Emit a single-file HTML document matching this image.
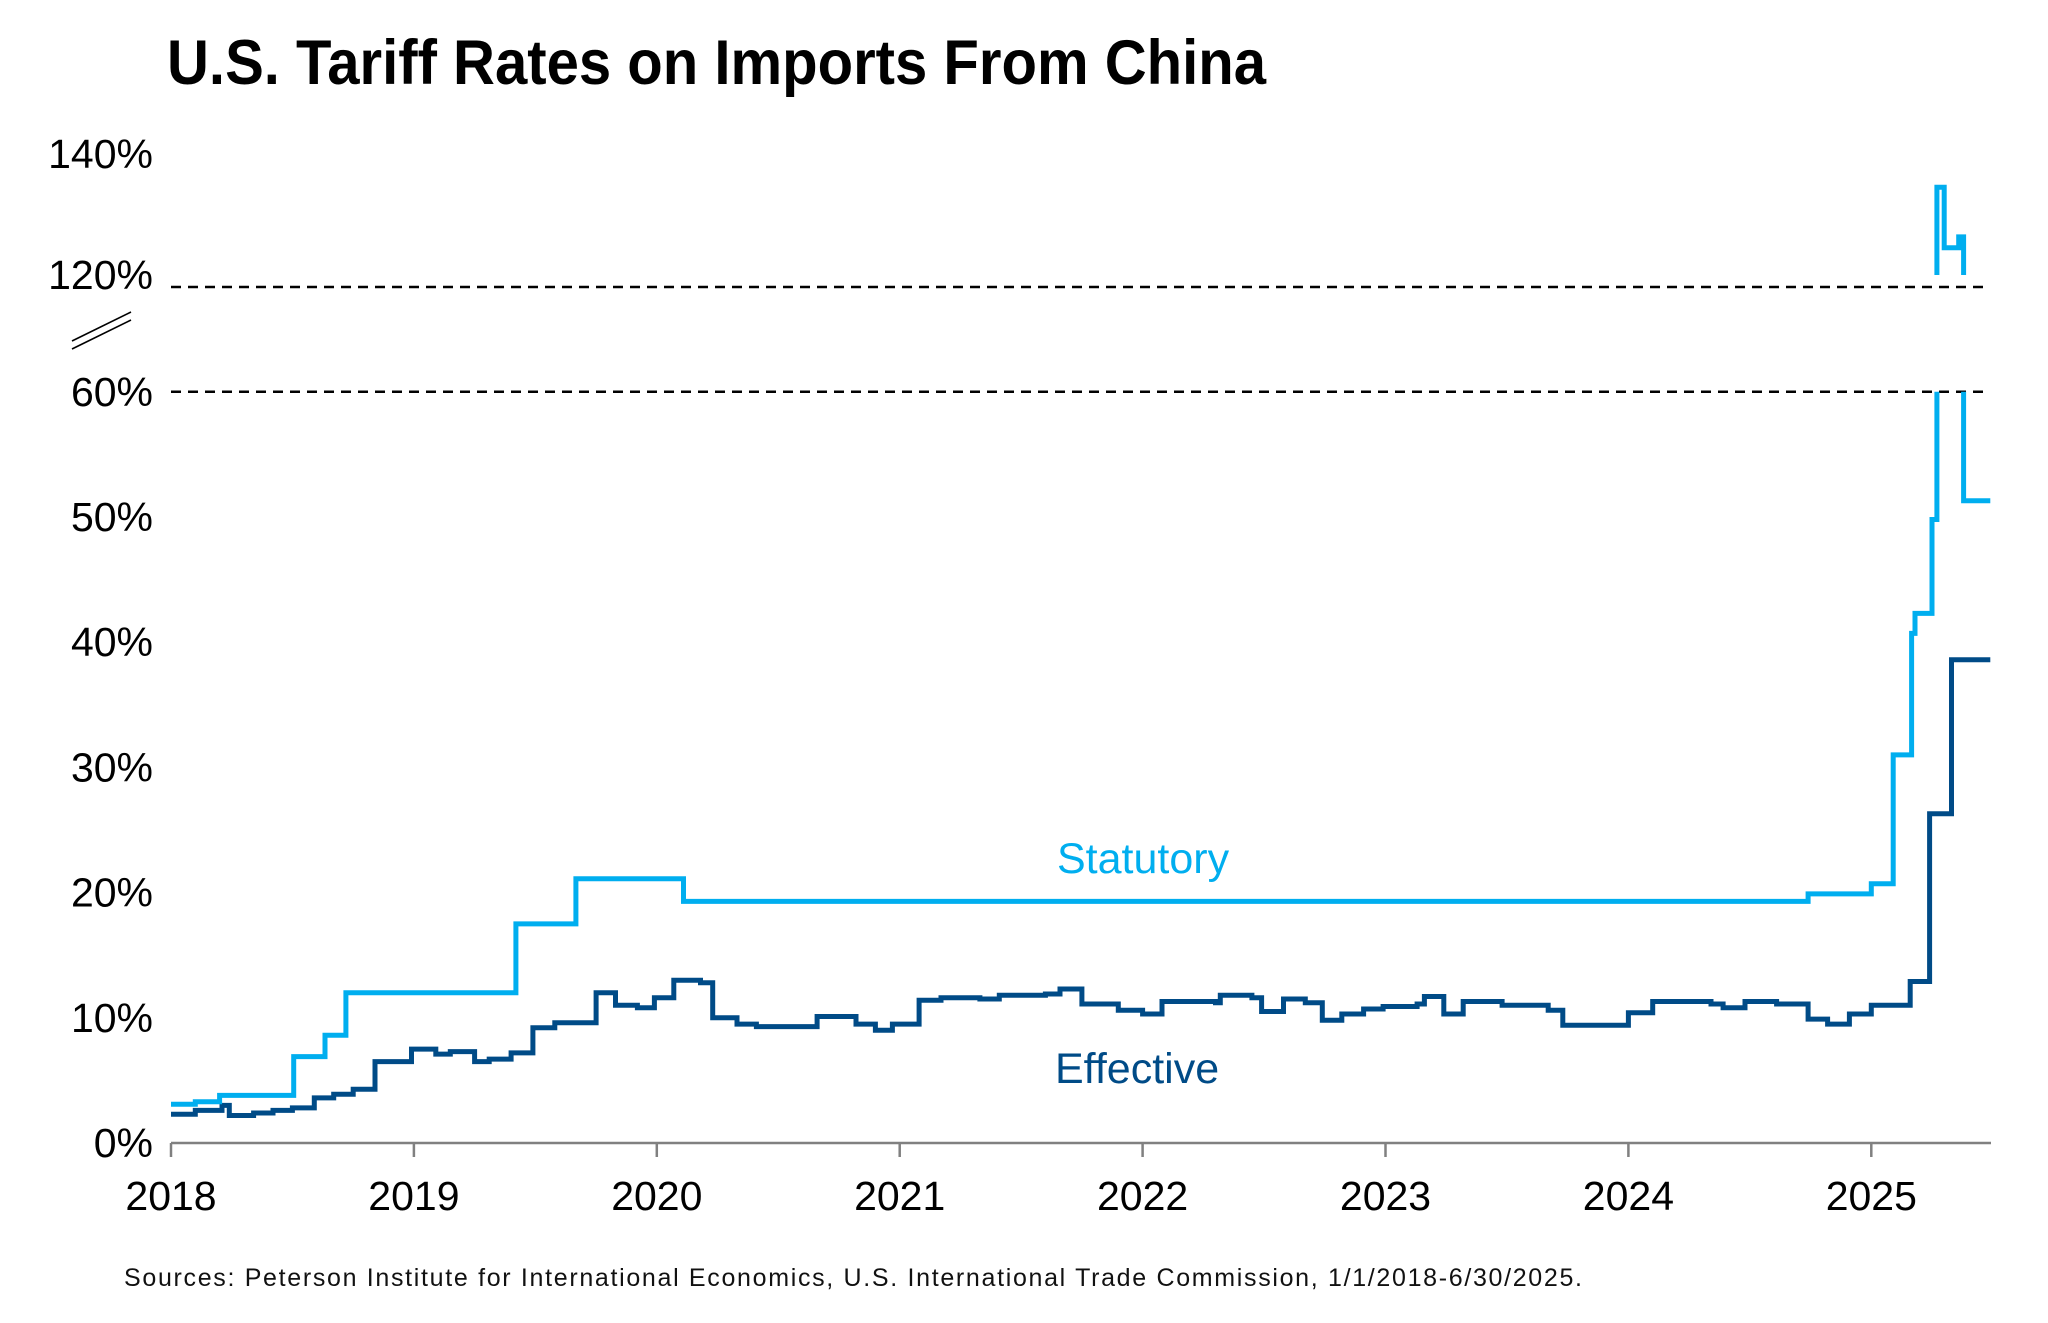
<!DOCTYPE html>
<html><head><meta charset="utf-8"><style>
html,body{margin:0;padding:0;background:#fff;}
svg{display:block;font-family:"Liberation Sans",Arial,sans-serif;}
</style></head><body>
<svg id="chart" width="2048" height="1323" viewBox="0 0 2048 1323" xmlns="http://www.w3.org/2000/svg">
<text x="167" y="84" font-size="63" font-weight="bold" textLength="1099" lengthAdjust="spacingAndGlyphs" fill="#000">U.S. Tariff Rates on Imports From China</text>
<text x="124" y="1286" font-size="25" textLength="1458" lengthAdjust="spacing" fill="#111">Sources: Peterson Institute for International Economics, U.S. International Trade Commission, 1/1/2018-6/30/2025.</text>
<g id="axes"></g>
<g id="series"></g>
<text x="1057" y="873" font-size="43" fill="#00AEEF">Statutory</text>
<text x="1055" y="1083" font-size="43" fill="#004B87">Effective</text>
</svg>
<script>
const yearTicks = [2018,2019,2020,2021,2022,2023,2024,2025];
const lowerTicks = [0,10,20,30,40,50,60];
const upperTicks = [120,140];
const statYears = [2018.0,2018.1,2018.2,2018.505,2018.634,2018.72,2019.42,2019.667,2020.11,2024.74,2025.0,2025.09,2025.166,2025.18,2025.25,2025.27,2025.30,2025.36,2025.38,2025.49];
const statVals  = [3.1,3.3,3.8,6.9,8.6,12.0,17.5,21.1,19.3,19.9,20.7,31.0,40.7,42.3,49.8,134.5,124.5,126.3,51.3,51.3];
const effYears = [2018.0,2018.1,2018.21,2018.24,2018.34,2018.42,2018.5,2018.59,2018.67,2018.75,2018.84,2018.99,2019.09,2019.15,2019.25,2019.31,2019.40,2019.49,2019.58,2019.75,2019.83,2019.92,2019.99,2020.07,2020.18,2020.23,2020.33,2020.41,2020.66,2020.82,2020.90,2020.97,2021.08,2021.17,2021.33,2021.41,2021.6,2021.66,2021.75,2021.90,2022.0,2022.08,2022.30,2022.32,2022.45,2022.49,2022.58,2022.67,2022.74,2022.82,2022.91,2022.99,2023.13,2023.16,2023.24,2023.32,2023.48,2023.67,2023.73,2024.0,2024.10,2024.34,2024.39,2024.48,2024.61,2024.74,2024.82,2024.91,2025.0,2025.16,2025.24,2025.33,2025.49];
const effVals  = [2.3,2.6,3.0,2.2,2.4,2.6,2.8,3.6,3.9,4.3,6.5,7.5,7.1,7.3,6.5,6.7,7.2,9.2,9.6,12.0,11.0,10.8,11.6,13.0,12.8,10.0,9.5,9.3,10.1,9.5,9.0,9.5,11.4,11.6,11.5,11.8,11.9,12.3,11.1,10.6,10.3,11.3,11.2,11.8,11.6,10.5,11.5,11.2,9.8,10.3,10.7,10.9,11.1,11.7,10.3,11.3,11.0,10.6,9.4,10.4,11.3,11.1,10.8,11.3,11.1,9.9,9.5,10.3,11.0,12.9,26.3,38.6,38.6];

const NS='http://www.w3.org/2000/svg';
const X0=171, XS=242.9, XEND=1991;
const Y0=1143, YS=12.52; // per 1%
const UY120=275, US=6.05; // per 1% upper
function xs(yr){return X0+(yr-2018)*XS;}
function yl(v){return Y0-v*YS;}
function yu(v){return UY120-(v-120)*US;}
function mk(tag,attrs,parent){const e=document.createElementNS(NS,tag);for(const k in attrs)e.setAttribute(k,attrs[k]);parent.appendChild(e);return e;}
const svg=document.getElementById('chart');
const axes=document.getElementById('axes');
const ser=document.getElementById('series');
const defs=mk('defs',{},svg);
const cl=mk('clipPath',{id:'clipLow'},defs); mk('rect',{x:0,y:yl(60),width:2048,height:900},cl);
const cu=mk('clipPath',{id:'clipUp'},defs); mk('rect',{x:0,y:0,width:2048,height:UY120},cu);

// x axis
const ax=mk('line',{x1:X0,y1:Y0,x2:XEND,y2:Y0,stroke:'#808080','stroke-width':2.5},axes);


yearTicks.forEach(yr=>{
  const t=mk('line',{x1:xs(yr),y1:Y0,x2:xs(yr),y2:Y0+14,stroke:'#808080','stroke-width':2.5},axes);
  
  
  const l=mk('text',{x:xs(yr),y:Y0+67,'font-size':41,'text-anchor':'middle',fill:'#000'},axes);
  l.textContent=yr;
  
  
});
lowerTicks.forEach(v=>{
  const l=mk('text',{x:153,y:yl(v)+14,'font-size':41,'text-anchor':'end',fill:'#000'},axes);
  l.textContent=v+'%';
  
  
});
upperTicks.forEach(v=>{
  const l=mk('text',{x:153,y:yu(v)+14,'font-size':41,'text-anchor':'end',fill:'#000'},axes);
  l.textContent=v+'%';
  
  
});
// dashed break lines
[[287,'dashed-line-120'],[yl(60),'dashed-line-60']].forEach(([y,n])=>{
  const d=mk('line',{x1:X0,y1:y,x2:1985,y2:y,stroke:'#000','stroke-width':2.5,'stroke-dasharray':'10 7'},axes);
  
  
});
const br=mk('g',{stroke:'#000','stroke-width':1.6},axes);


mk('line',{x1:72,y1:341,x2:131,y2:312},br);
mk('line',{x1:72,y1:349,x2:131,y2:320},br);

function stepPath(years,vals,yf){
  let d='';
  for(let i=0;i<years.length;i++){
    const x=xs(years[i]).toFixed(1), y=yf(vals[i]).toFixed(1);
    if(i===0) d+='M'+x+','+y;
    else d+='H'+x+'V'+y;
  }
  return d;
}
const effP=mk('path',{d:stepPath(effYears,effVals,yl),fill:'none',stroke:'#004B87','stroke-width':5,'stroke-linejoin':'miter'},ser);


const stL=mk('path',{d:stepPath(statYears,statVals,yl),fill:'none',stroke:'#00AEEF','stroke-width':5,'clip-path':'url(#clipLow)'},ser);


const stU=mk('path',{d:stepPath(statYears,statVals,yu),fill:'none',stroke:'#00AEEF','stroke-width':5,'clip-path':'url(#clipUp)'},ser);


</script>
</body></html>
